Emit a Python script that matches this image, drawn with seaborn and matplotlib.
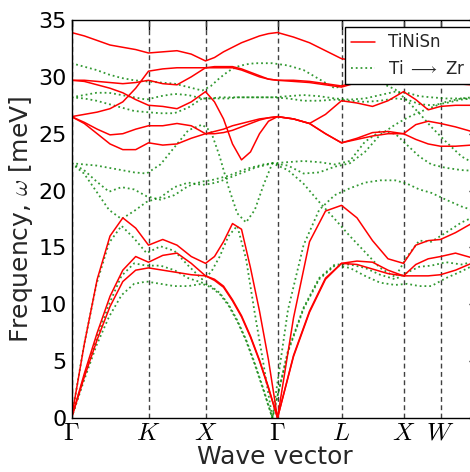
import numpy as np
import pandas as pd
import matplotlib
matplotlib.use("Agg")
import matplotlib.pyplot as plt
from matplotlib.lines import Line2D
import seaborn as sns

# high-symmetry points of the fcc path
sym_labels = [r'$\Gamma$', r'$K$', r'$X$', r'$\Gamma$', r'$L$', r'$X$', r'$W$']
sym_pos = [0, 77, 134, 206, 270, 332, 369]

# path coordinate of the sampled points (TiNiSn)
k_path = [0, 12.8, 25.7, 38.5, 51.3, 64.2, 77,
          91.25, 105.5, 119.75, 134,
          143, 152, 161, 170, 179, 188, 197, 206,
          222, 238, 254, 270,
          285.5, 301, 316.5, 332,
          344.3, 356.7, 369,
          384, 400, 421]
# ZrNiSn has the larger lattice constant, so its path is shorter
lattice_ratio = 0.975

# TiNiSn bands (meV)
ti_ta1 = [0, 3.6, 6.9, 9.8, 12.0, 13.0, 13.2, 13.0, 12.8, 12.6, 12.5,
          12.1, 11.5, 10.3, 8.9, 7.1, 5.0, 2.6, 0, 5.4, 9.3, 12.2, 13.6,
          13.5, 13.1, 12.7, 12.5, 12.5, 12.5, 12.6, 13.0, 13.6, 14.2]
ti_ta2 = [0, 3.9, 7.5, 10.7, 13.0, 14.2, 13.7, 14.3, 14.5, 13.6, 12.5,
          12.2, 11.6, 10.4, 9.0, 7.2, 5.1, 2.7, 0, 5.5, 9.4, 12.3, 13.6,
          13.8, 13.7, 13.0, 12.5, 13.5, 14.0, 14.2, 14.5, 14.1, 13.8]
ti_la = [0, 6.5, 12.2, 16.0, 17.6, 16.7, 15.2, 15.7, 15.2, 14.2, 13.6,
         14.2, 15.5, 17.1, 16.6, 13.2, 9.4, 5.1, 0, 8.8, 15.5, 18.2, 18.7,
         17.6, 15.6, 14.0, 13.6, 15.2, 15.6, 15.7, 16.3, 17.1, 17.8]
ti_o1 = [26.5, 25.9, 25.0, 24.1, 23.6, 23.6, 24.2, 24.0, 24.1, 24.6, 25.0,
         25.0, 25.1, 25.3, 25.6, 25.9, 26.2, 26.4, 26.5, 26.3, 25.9, 25.0, 24.2,
         24.5, 24.8, 25.0, 25.0, 24.5, 24.1, 23.9, 23.9, 24.0, 24.2]
ti_o2 = [26.5, 26.0, 25.4, 24.9, 25.0, 25.4, 25.7, 25.7, 25.9, 25.7, 25.0,
         25.2, 25.4, 25.7, 25.9, 26.1, 26.3, 26.4, 26.5, 26.3, 25.9, 25.0, 24.2,
         24.6, 25.1, 25.2, 25.0, 25.8, 26.1, 25.9, 25.6, 25.2, 24.6]
ti_o3 = [26.5, 26.7, 26.9, 27.2, 27.8, 29.0, 30.5, 30.7, 30.8, 30.8, 30.8,
         30.9, 30.9, 30.9, 30.7, 30.4, 30.1, 29.8, 29.7, 29.6, 29.5, 29.3, 29.1,
         29.5, 30.0, 30.5, 30.8, 30.4, 29.7, 29.5, 29.4, 29.3, 29.2]
ti_o4 = [29.7, 29.6, 29.3, 29.0, 28.6, 28.0, 27.5, 27.4, 27.2, 27.8, 28.7,
         27.8, 26.3, 24.1, 22.7, 23.4, 25.0, 26.1, 26.5, 26.3, 25.9, 26.7, 27.9,
         27.7, 27.4, 27.9, 28.7, 28.0, 27.1, 27.4, 27.5, 27.5, 27.8]
ti_o5 = [29.7, 29.7, 29.6, 29.5, 29.4, 29.5, 29.7, 29.4, 29.3, 30.0, 30.8,
         30.8, 30.8, 30.8, 30.6, 30.3, 30.0, 29.8, 29.7, 29.7, 29.6, 29.4, 29.2,
         29.6, 30.1, 30.6, 30.8, 30.8, 30.7, 30.6, 30.6, 30.5, 30.3]
ti_o6 = [33.9, 33.6, 33.2, 32.8, 32.6, 32.4, 32.1, 32.2, 32.3, 32.0, 31.4,
         31.7, 32.2, 32.6, 33.0, 33.3, 33.6, 33.8, 33.9, 33.5, 33.0, 32.3, 31.6,
         31.4, 31.3, 31.3, 31.4, 31.5, 31.6, 31.6, 31.7, 31.8, 31.7]

# Ti -> Zr bands (meV)
zr_ta1 = [0, 3.3, 6.4, 8.9, 10.8, 11.8, 12.0, 11.8, 11.6, 11.6, 11.8,
          11.5, 10.9, 9.9, 8.5, 6.8, 4.7, 2.4, 0, 5.8, 9.6, 12.2, 13.4,
          13.2, 12.5, 11.9, 11.7, 11.8, 11.6, 11.6, 12.3, 12.9, 13.8]
zr_ta2 = [0, 3.6, 7.0, 10.0, 12.5, 13.6, 13.4, 13.4, 13.0, 12.3, 11.9,
          11.6, 11.0, 10.0, 8.6, 6.9, 4.8, 2.5, 0, 5.9, 9.7, 12.3, 13.5,
          13.5, 13.2, 12.6, 12.2, 12.8, 13.3, 13.4, 13.7, 13.5, 13.9]
zr_la = [0, 6.4, 11.8, 15.4, 16.9, 15.8, 14.5, 15.1, 14.7, 13.4, 12.2,
         12.8, 14.2, 16.0, 16.9, 14.0, 9.2, 4.7, 0, 9.5, 15.2, 18.3, 19.6,
         20.2, 20.7, 20.9, 20.9, 20.6, 20.1, 19.8, 19.2, 18.6, 18.0]
zr_o1 = [22.4, 21.5, 19.9, 18.3, 17.5, 18.2, 19.0, 19.4, 20.3, 20.7, 20.5,
         20.6, 20.8, 21.1, 21.4, 21.7, 22.0, 22.2, 22.4, 21.8, 20.6, 19.0, 17.5,
         16.0, 14.6, 13.2, 12.4, 14.2, 15.6, 15.5, 16.3, 17.2, 18.0]
zr_o2 = [22.4, 21.8, 20.8, 19.9, 20.3, 20.1, 19.5, 19.2, 19.6, 20.4, 20.8,
         20.9, 21.1, 21.3, 21.6, 21.9, 22.1, 22.3, 22.4, 22.5, 22.6, 22.5, 22.3,
         22.6, 24.3, 25.2, 25.0, 24.0, 23.0, 22.3, 22.0, 21.8, 21.7]
zr_o3 = [22.4, 22.3, 22.2, 22.0, 21.8, 21.6, 21.5, 22.3, 23.8, 25.3, 25.8,
         25.2, 23.0, 20.3, 18.0, 17.2, 18.3, 20.5, 22.4, 22.2, 21.5, 21.6, 22.1,
         22.4, 23.4, 24.9, 25.8, 26.4, 26.9, 27.3, 27.8, 28.1, 28.3]
zr_o4 = [28.2, 28.1, 27.9, 27.6, 27.3, 27.0, 26.9, 26.8, 26.8, 27.3, 28.1,
         28.1, 28.2, 28.2, 28.2, 28.2, 28.2, 28.2, 28.2, 28.1, 27.9, 27.9, 28.0,
         27.9, 27.8, 27.9, 28.1, 28.0, 27.6, 27.5, 27.7, 28.0, 28.2]
zr_o5 = [28.2, 28.4, 28.6, 28.6, 28.4, 28.2, 28.0, 28.3, 28.5, 28.4, 28.1,
         28.1, 28.1, 28.1, 28.2, 28.2, 28.2, 28.2, 28.2, 28.3, 28.4, 28.3, 28.1,
         28.0, 28.1, 28.4, 28.7, 28.6, 28.3, 28.2, 28.1, 28.1, 28.1]
zr_o6 = [31.2, 30.9, 30.6, 30.2, 29.9, 29.7, 29.6, 29.5, 29.4, 29.1, 28.8,
         29.2, 29.9, 30.5, 30.9, 31.1, 31.2, 31.2, 31.2, 31.0, 30.6, 29.8, 29.0,
         29.5, 29.9, 29.5, 28.9, 27.9, 26.8, 25.6, 24.3, 23.0, 22.0]

ti_bands = [ti_ta1, ti_ta2, ti_la, ti_o1, ti_o2, ti_o3, ti_o4, ti_o5, ti_o6]
zr_bands = [zr_ta1, zr_ta2, zr_la, zr_o1, zr_o2, zr_o3, zr_o4, zr_o5, zr_o6]


def bands_frame(bands, scale):
    rows = []
    for b, vals in enumerate(bands):
        for k, f in zip(k_path, vals):
            rows.append([b, k * scale, f])
    return pd.DataFrame(rows, columns=['band', 'k', 'freq'])


df_ti = bands_frame(ti_bands, 1.0)
df_zr = bands_frame(zr_bands, lattice_ratio)

sns.set_style('white')
plt.rcParams['font.family'] = ['DejaVu Sans']
plt.rcParams['mathtext.fontset'] = 'cm'

fig = plt.figure(figsize=(4.7, 4.72), dpi=100)
# the axes run a little past the right edge of the picture
ax = fig.add_axes([71.5 / 470, 54 / 472, (479 - 71.5) / 470, 398 / 472])

for p in sym_pos:
    ax.axvline(p, color='0.25', ls=(0, (3.5, 2.5)), lw=1.0, zorder=1)

sns.lineplot(data=df_zr, x='k', y='freq', units='band', estimator=None, sort=False,
             color='green', lw=1.3, ls=':', alpha=0.8, ax=ax, legend=False)
sns.lineplot(data=df_ti, x='k', y='freq', units='band', estimator=None, sort=False,
             color='red', lw=1.1, ax=ax, legend=False)

ax.set_xlim(0, 407.5)
ax.set_ylim(0, 35)
ax.set_yticks(range(0, 36, 5))
ax.set_xticks(sym_pos)
ax.set_xticklabels(sym_labels, fontsize=18)
ax.tick_params(axis='y', labelsize=16)
ax.tick_params(direction='in', top=True, right=True, length=7, width=1, colors='black')
ax.tick_params(axis='x', pad=2)
for s in ax.spines.values():
    s.set_color('black')
    s.set_linewidth(1.0)

ax.set_xlabel('Wave vector', fontsize=18, labelpad=0)
ax.set_ylabel(r'Frequency, $\omega$ [meV]', fontsize=18, labelpad=2)

handles = [Line2D([], [], color='red', lw=1.1),
           Line2D([], [], color='green', lw=1.3, ls=':', alpha=0.8)]
leg = ax.legend(handles, ['TiNiSn', r'Ti $\longrightarrow$ Zr'], loc='upper right',
                fontsize=12, fancybox=False, framealpha=1, edgecolor='black',
                borderaxespad=0.4, handlelength=1.4)
leg.get_frame().set_linewidth(1.0)

fig.savefig('out.png', dpi=100)
